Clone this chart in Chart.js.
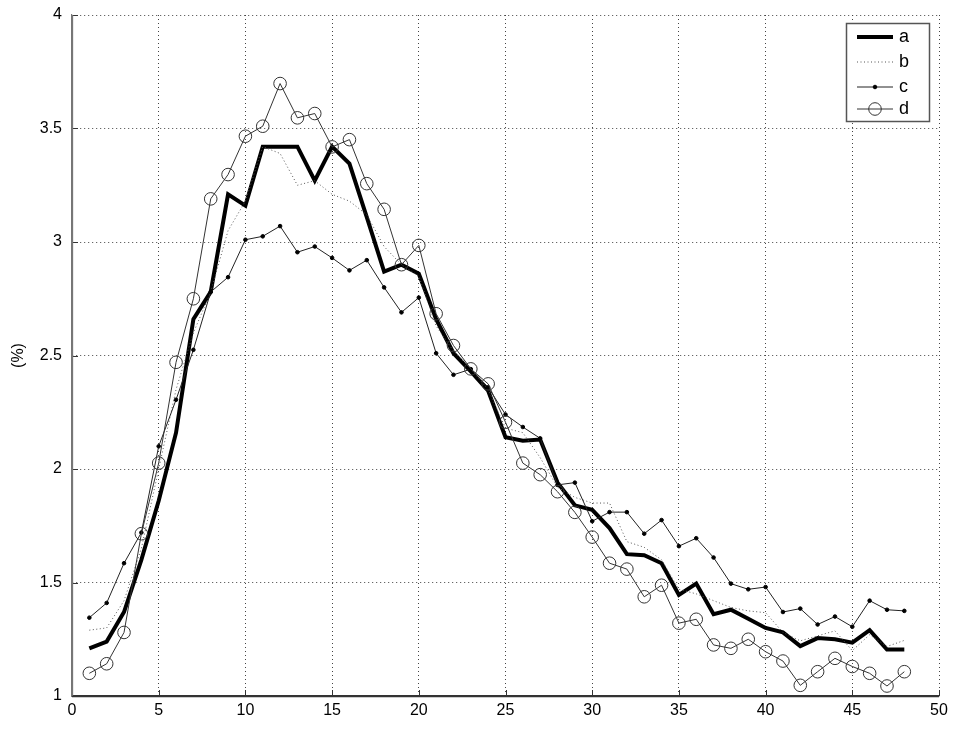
<!DOCTYPE html>
<html>
<head>
<meta charset="utf-8">
<script src="https://cdn.jsdelivr.net/npm/chart.js@4/dist/chart.umd.min.js"></script>
<style>
html,body{margin:0;padding:0;background:#fff;}
#wrap{width:955px;height:729px;}
</style>
</head>
<body>
<div id="wrap"><canvas id="c" width="955" height="729"></canvas></div>
<script>
const xValues = Array.from({length: 48}, (_, i) => i + 1);
const seriesA = [1.21,1.24,1.37,1.60,1.86,2.16,2.66,2.78,3.21,3.16,
                 3.42,3.42,3.42,3.27,3.42,3.345,3.11,2.87,2.90,2.86,
                 2.66,2.51,2.43,2.345,2.14,2.125,2.13,1.94,1.84,1.82,
                 1.74,1.625,1.62,1.585,1.445,1.495,1.36,1.38,1.34,1.30,
                 1.28,1.22,1.255,1.25,1.235,1.29,1.205,1.205];
const seriesB = [1.29,1.30,1.42,1.65,2.0,2.35,2.6,2.78,3.05,3.18,
                 3.42,3.39,3.25,3.27,3.21,3.18,3.12,2.98,2.90,2.85,
                 2.63,2.52,2.44,2.35,2.18,2.16,2.05,1.92,1.875,1.85,
                 1.85,1.68,1.655,1.60,1.47,1.45,1.42,1.39,1.375,1.367,
                 1.28,1.243,1.265,1.287,1.20,1.27,1.218,1.245];
const seriesC = [1.345,1.41,1.585,1.72,2.10,2.305,2.525,2.78,2.845,3.01,
                 3.025,3.07,2.955,2.98,2.93,2.875,2.92,2.80,2.69,2.755,
                 2.51,2.415,2.44,2.36,2.24,2.185,2.135,1.93,1.94,1.77,
                 1.81,1.81,1.715,1.775,1.66,1.695,1.61,1.495,1.47,1.48,
                 1.37,1.385,1.315,1.35,1.305,1.42,1.38,1.375];
const seriesD = [1.10,1.142,1.28,1.715,2.026,2.47,2.75,3.19,3.297,3.466,
                 3.51,3.698,3.547,3.566,3.419,3.451,3.257,3.144,2.90,2.985,
                 2.684,2.544,2.441,2.375,2.206,2.026,1.975,1.90,1.809,1.70,
                 1.585,1.559,1.437,1.488,1.321,1.338,1.225,1.21,1.25,1.195,
                 1.154,1.047,1.107,1.166,1.13,1.10,1.044,1.107];
const seriesNames = ['a','b','c','d'];
const xTicks = [0,5,10,15,20,25,30,35,40,45,50];
const yTicks = [1,1.5,2,2.5,3,3.5,4];
const yTitle = '(%)';

const FONT = "'Liberation Sans', Arial, Helvetica, sans-serif";
const toPts = arr => arr.map((v, i) => ({x: xValues[i], y: v}));

const styles = [
  {borderColor:'#000', borderWidth:4, pointRadius:0, borderDash:[]},
  {borderColor:'#555', borderWidth:1, pointRadius:0, borderDash:[1,2.5]},
  {borderColor:'#222', borderWidth:1, pointRadius:1.8, pointBackgroundColor:'#000', pointBorderColor:'#000', pointBorderWidth:1, borderDash:[]},
  {borderColor:'#333', borderWidth:1, pointRadius:6.3, pointBackgroundColor:'rgba(0,0,0,0)', pointBorderColor:'#333', pointBorderWidth:1, borderDash:[]}
];
const allSeries = [seriesA, seriesB, seriesC, seriesD];

const datasets = allSeries.map((s, i) => Object.assign({
  label: seriesNames[i],
  data: toPts(s),
  tension: 0,
  fill: false,
  order: 4 - i,
  pointHoverRadius: 0
}, styles[i]));

const legendPlugin = {
  id: 'boxLegend',
  afterDraw(chart) {
    const ctx = chart.ctx;
    const L = 846, T = 23, R = 929, B = 121;
    ctx.save();
    ctx.fillStyle = '#fff';
    ctx.fillRect(L, T, R - L, B - T);
    ctx.strokeStyle = '#555';
    ctx.lineWidth = 1.5;
    ctx.strokeRect(L + 0.5, T + 0.5, R - L, B - T);
    const rows = [37, 62, 87, 109];
    const x1 = 857, x2 = 893;
    ctx.font = '18px ' + FONT;
    ctx.textBaseline = 'middle';
    ctx.textAlign = 'left';
    chart.data.datasets.forEach((ds, i) => {
      const y = rows[i];
      ctx.beginPath();
      ctx.setLineDash(ds.borderDash || []);
      ctx.lineWidth = ds.borderWidth;
      ctx.strokeStyle = ds.borderColor;
      ctx.moveTo(x1, y); ctx.lineTo(x2, y);
      ctx.stroke();
      ctx.setLineDash([]);
      if (ds.pointRadius > 0) {
        ctx.beginPath();
        ctx.arc((x1 + x2) / 2, y, ds.pointRadius, 0, Math.PI * 2);
        ctx.fillStyle = ds.pointBackgroundColor;
        ctx.fill();
        ctx.lineWidth = ds.pointBorderWidth;
        ctx.strokeStyle = ds.pointBorderColor;
        ctx.stroke();
      }
      ctx.fillStyle = '#000';
      ctx.fillText(ds.label, 899, y);
    });
    ctx.restore();
  }
};

const tickPlugin = {
  id: 'inTicks',
  afterDatasetsDraw(chart) {
    const ctx = chart.ctx;
    const xs = chart.scales.x, ys = chart.scales.y;
    const a = chart.chartArea;
    ctx.save();
    ctx.strokeStyle = '#333';
    ctx.lineWidth = 1;
    xTicks.forEach(t => {
      const px = Math.round(xs.getPixelForValue(t)) + 0.5;
      ctx.beginPath(); ctx.moveTo(px, a.bottom); ctx.lineTo(px, a.bottom - 6); ctx.stroke();
    });
    yTicks.forEach(t => {
      const py = Math.round(ys.getPixelForValue(t)) + 0.5;
      ctx.beginPath(); ctx.moveTo(a.left, py); ctx.lineTo(a.left + 6, py); ctx.stroke();
    });
    ctx.lineWidth = 1.3;
    ctx.strokeStyle = '#777';
    ctx.beginPath(); ctx.moveTo(a.left + 0.5, a.top); ctx.lineTo(a.left + 0.5, a.bottom); ctx.stroke();
    ctx.strokeStyle = '#333';
    ctx.beginPath(); ctx.moveTo(a.left, a.bottom + 0.5); ctx.lineTo(a.right, a.bottom + 0.5); ctx.stroke();
    ctx.restore();
  }
};

new Chart(document.getElementById('c'), {
  type: 'line',
  data: { datasets },
  options: {
    responsive: false,
    animation: false,
    events: [],
    layout: { padding: { left: 0, right: 16, top: 15, bottom: 0 } },
    plugins: { legend: { display: false }, tooltip: { enabled: false } },
    scales: {
      x: {
        type: 'linear',
        min: 0, max: 50,
        afterBuildTicks: s => { s.ticks = xTicks.map(v => ({value: v})); },
        afterFit: s => { s.height = 33; s.paddingLeft = 0; s.paddingRight = 0; },
        grid: { color: '#444', lineWidth: 1, drawTicks: false },
        border: { display: true, color: '#333', width: 1.2, dash: [1, 3] },
        ticks: { color: '#000', font: { family: FONT, size: 16 }, padding: 5, maxRotation: 0, callback: v => String(v) }
      },
      y: {
        type: 'linear',
        min: 1, max: 4,
        afterBuildTicks: s => { s.ticks = yTicks.map(v => ({value: v})); },
        afterFit: s => { s.width = 72; s.paddingTop = 0; s.paddingBottom = 0; },
        grid: { color: '#444', lineWidth: 1, drawTicks: false },
        border: { display: true, color: '#777', width: 1.2, dash: [1, 3] },
        ticks: { color: '#000', font: { family: FONT, size: 16 }, padding: 10, callback: v => String(v) },
        title: { display: true, text: yTitle, color: '#000', font: { family: FONT, size: 16 }, padding: { top: 9, bottom: 0 } }
      }
    }
  },
  plugins: [tickPlugin, legendPlugin]
});
</script>
</body>
</html>
